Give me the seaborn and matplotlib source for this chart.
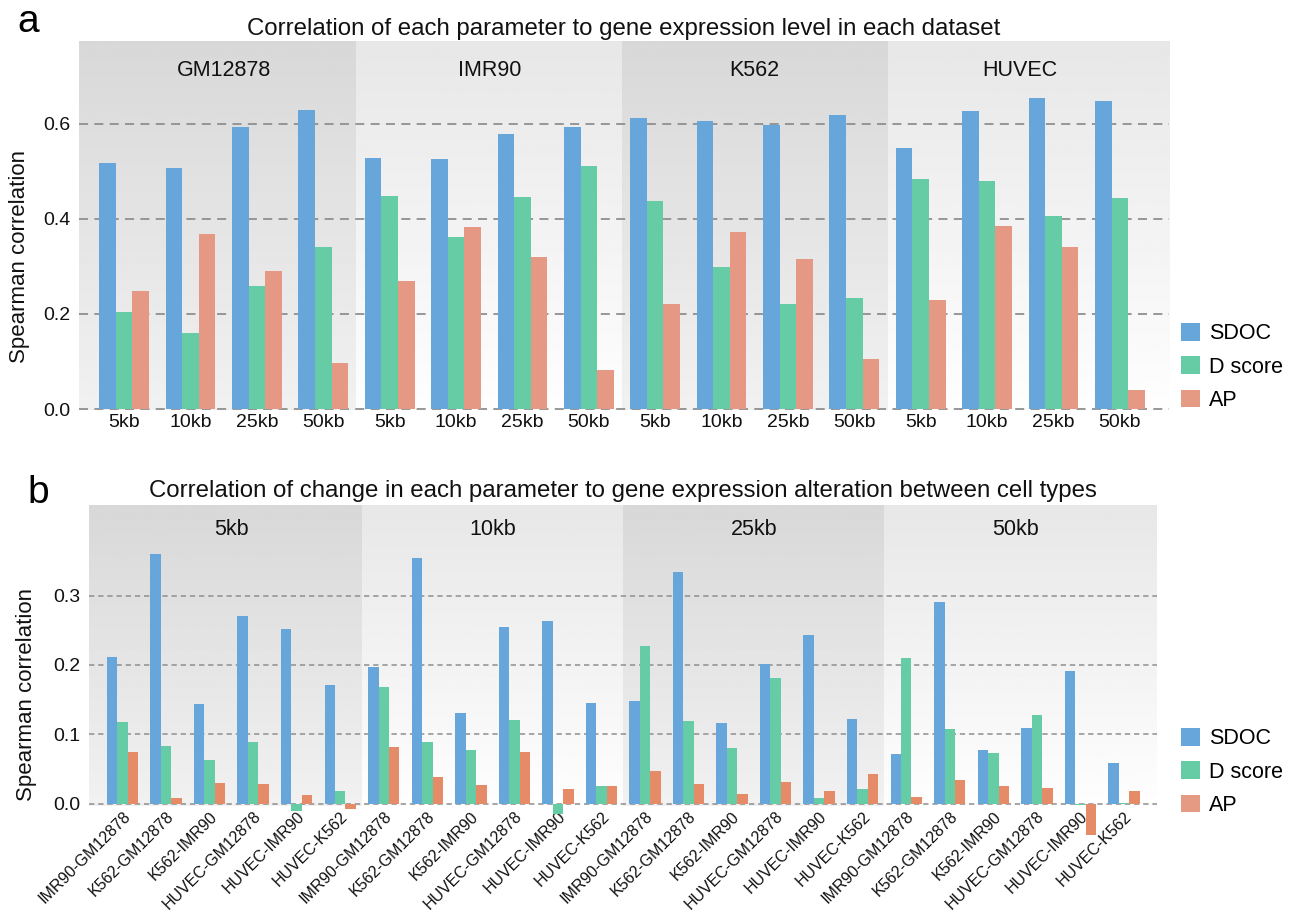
import numpy as np
import pandas as pd
import matplotlib
matplotlib.use("Agg")
import matplotlib.pyplot as plt
from matplotlib.patches import Patch
import seaborn as sns

plt.rcParams['font.family'] = ['Liberation Sans', 'DejaVu Sans']

# ---------------- data ----------------
measures = ["SDOC", "D score", "AP"]

groups_a = ["GM12878", "IMR90", "K562", "HUVEC"]
res_a = ["5kb", "10kb", "25kb", "50kb"]
sdoc_a = [0.517, 0.507, 0.593, 0.629, 0.528, 0.526, 0.578, 0.593,
          0.612, 0.606, 0.597, 0.618, 0.549, 0.627, 0.654, 0.648]
dscore_a = [0.204, 0.160, 0.259, 0.341, 0.448, 0.362, 0.446, 0.511,
            0.437, 0.299, 0.221, 0.233, 0.484, 0.479, 0.406, 0.444]
ap_a = [0.248, 0.368, 0.290, 0.097, 0.269, 0.383, 0.320, 0.082,
        0.221, 0.372, 0.315, 0.105, 0.229, 0.385, 0.341, 0.040]

groups_b = ["5kb", "10kb", "25kb", "50kb"]
pairs_b = ["IMR90-GM12878", "K562-GM12878", "K562-IMR90",
           "HUVEC-GM12878", "HUVEC-IMR90", "HUVEC-K562"]
sdoc_b = [0.211, 0.360, 0.144, 0.270, 0.252, 0.171,
          0.197, 0.354, 0.131, 0.254, 0.263, 0.145,
          0.148, 0.334, 0.116, 0.201, 0.243, 0.122,
          0.072, 0.290, 0.077, 0.109, 0.191, 0.059]
dscore_b = [0.118, 0.083, 0.063, 0.089, -0.011, 0.018,
            0.168, 0.089, 0.077, 0.120, -0.015, 0.025,
            0.227, 0.119, 0.080, 0.181, 0.008, 0.021,
            0.210, 0.108, 0.073, 0.128, -0.002, 0.001]
ap_b = [0.074, 0.008, 0.030, 0.028, 0.012, -0.008,
        0.082, 0.038, 0.027, 0.074, 0.021, 0.025,
        0.047, 0.028, 0.014, 0.031, 0.018, 0.043,
        0.010, 0.034, 0.025, 0.023, -0.045, 0.018]

legend_colors = {"SDOC": "#66a6da", "D score": "#66cca5", "AP": "#e59a84"}
palette_a = {"SDOC": "#66a6da", "D score": "#66cca5", "AP": "#e59884"}
palette_b = {"SDOC": "#66a6da", "D score": "#66cca5", "AP": "#e58b68"}


def long_df(groups, subs, vals):
    cats = [f"{g}|{s}" for g in groups for s in subs]
    rows = []
    for m, v in zip(measures, vals):
        for c, val in zip(cats, v):
            rows.append({"cat": c, "measure": m, "value": val})
    return pd.DataFrame(rows), cats


df_a, cats_a = long_df(groups_a, res_a, [sdoc_a, dscore_a, ap_a])
df_b, cats_b = long_df(groups_b, pairs_b, [sdoc_b, dscore_b, ap_b])

W, H = 1302, 913
fig = plt.figure(figsize=(W / 100, H / 100), dpi=100)


def px_axes(l, t, r, b):
    return fig.add_axes([l / W, 1 - b / H, (r - l) / W, (b - t) / H])


def gradient_bg(ax, bounds, ylim):
    for i in range(len(bounds) - 1):
        if i % 2 == 0:
            top, bot = 0.847, 0.945
        else:
            top, bot = 0.906, 0.995
        grad = np.linspace(top, bot, 256).reshape(-1, 1)
        ax.imshow(grad, extent=(bounds[i], bounds[i + 1], ylim[0], ylim[1]),
                  cmap="gray", vmin=0, vmax=1, aspect="auto", origin="upper",
                  zorder=-2, interpolation="bilinear")


def style_panel(ax, df, cats, groups, subs, palette, width, xlim, ylim,
                yticks, dash, lw, title, title_pad, glabel_y, ylab_xy):
    sns.barplot(data=df, x="cat", y="value", hue="measure", order=cats,
                hue_order=measures, palette=palette, width=width,
                saturation=1, errorbar=None, legend=False, ax=ax,
                linewidth=0, edgecolor="none")
    for p in ax.patches:
        p.set_clip_on(False)
        p.set_zorder(2)
    n = len(subs)
    bounds = [xlim[0]] + [n * k - 0.5 for k in range(1, len(groups))] + [xlim[1]]
    gradient_bg(ax, bounds, ylim)
    for k, g in enumerate(groups):
        xc = (bounds[k] + bounds[k + 1]) / 2 if 0 < k < len(groups) - 1 else n * k + (n - 1) / 2
        ax.text(xc, glabel_y, g, transform=ax.get_xaxis_transform(),
                ha="center", va="center", fontsize=15.5, color="#111111")
    ax.set_xlim(*xlim)
    ax.set_ylim(*ylim)
    ax.set_yticks(yticks)
    ax.set_yticklabels([f"{t:.1f}" for t in yticks])
    ax.set_axisbelow(True)
    for t in yticks:
        ax.axhline(t, color="#8f8f8f", linewidth=lw, linestyle=(0, dash), zorder=1)
    for s in ax.spines.values():
        s.set_visible(False)
    ax.tick_params(axis="both", length=0, labelsize=14, colors="#111111")
    ax.tick_params(axis="y", pad=6)
    ax.set_xlabel("")
    ax.set_ylabel("Spearman correlation", fontsize=16, color="#111111")
    ax.yaxis.set_label_coords(*ylab_xy)
    ax.set_title(title, fontsize=17.3, pad=title_pad, color="#111111")


# ---------------- panel a ----------------
ax_a = px_axes(79, 41, 1169, 410)
style_panel(ax_a, df_a, cats_a, groups_a, res_a, palette_a, 0.75,
            (-0.68, 15.74), (-0.002, 0.774), [0.0, 0.2, 0.4, 0.6],
            (5, 3.5), 1.3,
            "Correlation of each parameter to gene expression level in each dataset",
            4, 0.921, (-0.045, 0.417))
ax_a.set_xticks(range(len(cats_a)))
ax_a.set_xticklabels([c.split("|")[1] for c in cats_a])
ax_a.tick_params(axis="x", pad=3)

# ---------------- panel b ----------------
ax_b = px_axes(89, 505, 1157, 806)
style_panel(ax_b, df_b, cats_b, groups_b, pairs_b, palette_b, 0.72,
            (-0.77, 23.76), (-0.0033, 0.4304), [0.0, 0.1, 0.2, 0.3],
            (3.5, 2.5), 1.1,
            "Correlation of change in each parameter to gene expression alteration between cell types",
            6, 0.917, (-0.049, 0.372))
ax_b.set_xticks(range(len(cats_b)))
ax_b.set_xticklabels([c.split("|")[1] for c in cats_b], rotation=45,
                     ha="right", rotation_mode="anchor", fontsize=11.5)
ax_b.tick_params(axis="x", pad=2)

# ---------------- legends ----------------
handles = [Patch(facecolor=legend_colors[m], edgecolor="none") for m in measures]
for yc in (367, 772):
    fig.legend(handles, measures, loc="center left",
               bbox_to_anchor=(1181 / W, 1 - yc / H), frameon=False,
               fontsize=15.5, handlelength=0.9, handleheight=0.9,
               handletextpad=0.4, labelspacing=0.55, borderpad=0,
               borderaxespad=0)

# ---------------- panel letters ----------------
fig.text(17 / W, 1 - 32 / H, "a", fontsize=28, va="baseline", ha="left")
fig.text(27 / W, 1 - 503 / H, "b", fontsize=28, va="baseline", ha="left")

fig.savefig("out.png", dpi=100)
